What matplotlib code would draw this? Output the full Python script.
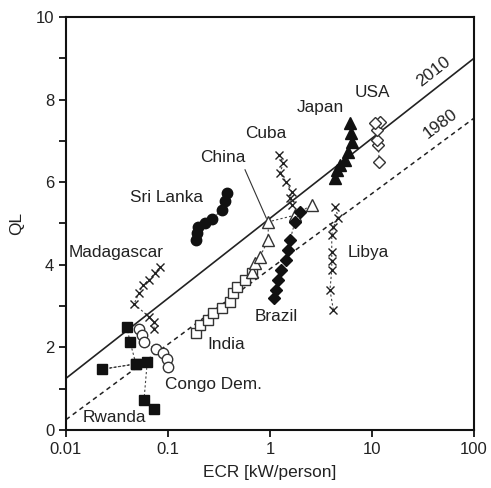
import matplotlib
matplotlib.use("Agg")
import matplotlib.pyplot as plt
import numpy as np

plt.rcParams['font.family'] = ['Liberation Sans', 'DejaVu Sans']

# Trend lines (ECR endpoints, QL)
line_x = [0.01, 100]
ql_2010 = [1.25, 9.0]
ql_1980 = [0.25, 7.55]

rwanda_x = [0.0394, 0.0424, 0.0485, 0.0225, 0.0485, 0.0626, 0.0582, 0.073]
rwanda_y = [2.50, 2.14, 1.60, 1.47, 1.60, 1.65, 0.73, 0.52]

congo_x = [0.052, 0.0552, 0.0582, 0.0763, 0.090, 0.0985, 0.1007]
congo_y = [2.44, 2.30, 2.14, 1.95, 1.87, 1.71, 1.52]

madag_x = [0.073, 0.073, 0.0652, 0.0465, 0.052, 0.0569, 0.0652, 0.0747, 0.0836]
madag_y = [2.45, 2.61, 2.74, 3.05, 3.32, 3.51, 3.63, 3.80, 3.95]

srilanka_x = [0.188, 0.193, 0.197, 0.23, 0.27, 0.338, 0.362, 0.378]
srilanka_y = [4.60, 4.77, 4.92, 5.01, 5.11, 5.33, 5.54, 5.74]

india_x = [0.188, 0.206, 0.248, 0.278, 0.336, 0.405, 0.437, 0.472, 0.569, 0.66]
india_y = [2.35, 2.54, 2.66, 2.83, 2.95, 3.11, 3.31, 3.47, 3.63, 3.79]

china_x = [0.662, 0.713, 0.798, 0.96, 0.962, 1.76, 2.56]
china_y = [3.83, 4.04, 4.20, 4.60, 5.04, 5.20, 5.45]

cuba_x = [1.23, 1.35, 1.25, 1.44, 1.63, 1.57, 1.63]
cuba_y = [6.66, 6.46, 6.22, 6.01, 5.77, 5.61, 5.45]

brazil_x = [1.09, 1.15, 1.20, 1.28, 1.43, 1.50, 1.57, 1.76, 1.97]
brazil_y = [3.20, 3.39, 3.63, 3.87, 4.12, 4.36, 4.60, 5.04, 5.28]

japan_x = [4.34, 4.54, 4.85, 5.43, 5.82, 6.37, 6.22, 6.08]
japan_y = [6.10, 6.30, 6.42, 6.54, 6.73, 6.97, 7.19, 7.43]

usa_x = [11.8, 11.5, 11.1, 11.1, 12.0, 10.7]
usa_y = [6.50, 6.90, 7.02, 7.26, 7.46, 7.43]

libya_x = [4.18, 3.87, 4.03, 4.03, 4.03, 4.03, 4.18, 4.68, 4.34]
libya_y = [2.91, 3.39, 3.87, 4.08, 4.32, 4.72, 4.92, 5.13, 5.41]

xticks = [0.01, 0.1, 1, 10, 100]
xticklabels = ['0.01', '0.1', '1', '10', '100']
yticks = [0, 2, 4, 6, 8, 10]

fig = plt.figure(figsize=(4.91, 4.88), dpi=100)
ax = fig.add_axes([0.1344, 0.1189, 0.831, 0.8463])
tc = '#222222'

ax.plot(line_x, ql_2010, '-', color='#222', lw=1.2, zorder=1)
ax.plot(line_x, ql_1980, '--', color='#222', lw=1.1, dashes=(3, 2.5), zorder=1)

lk = dict(color='#444', lw=0.8, ls=(0, (2, 2)), zorder=2, markeredgewidth=1.0)

ax.plot(rwanda_x, rwanda_y, marker='s', ms=6.5, mfc='#111', mec='#111', **lk)
ax.plot(congo_x, congo_y, marker='o', ms=7.5, mfc='white', mec='#333', **lk)
ax.plot(madag_x, madag_y, marker='x', ms=6, mec='#222', **lk)
ax.plot(srilanka_x, srilanka_y, marker='o', ms=7.5, mfc='#111', mec='#111', **lk)
ax.plot(india_x, india_y, marker='s', ms=7, mfc='white', mec='#333', **lk)
ax.plot(china_x, china_y, marker='^', ms=8, mfc='white', mec='#333', **lk)
ax.plot(cuba_x, cuba_y, marker='x', ms=6, mec='#222', **lk)
ax.plot(brazil_x, brazil_y, marker='D', ms=6, mfc='#111', mec='#111', **lk)
ax.plot(japan_x, japan_y, marker='^', ms=8, mfc='#111', mec='#111', **lk)
ax.plot(usa_x, usa_y, marker='D', ms=6, mfc='white', mec='#333', **lk)
ax.plot(libya_x, libya_y, marker='x', ms=6, mec='#222', **lk)

fs = 12.4
ax.text(0.0424, 5.62, 'Sri Lanka', fontsize=fs, color=tc, ha='left', va='center')
ax.text(0.0106, 4.29, 'Madagascar', fontsize=fs, color=tc, ha='left', va='center')
ax.text(0.206, 6.59, 'China', fontsize=fs, color=tc, ha='left', va='center')
ax.text(0.569, 7.19, 'Cuba', fontsize=fs, color=tc, ha='left', va='center')
ax.text(1.84, 7.80, 'Japan', fontsize=fs, color=tc, ha='left', va='center')
ax.text(6.8, 8.16, 'USA', fontsize=fs, color=tc, ha='left', va='center')
ax.text(5.82, 4.29, 'Libya', fontsize=fs, color=tc, ha='left', va='center')
ax.text(0.713, 2.74, 'Brazil', fontsize=fs, color=tc, ha='left', va='center')
ax.text(0.246, 2.06, 'India', fontsize=fs, color=tc, ha='left', va='center')
ax.text(0.0935, 1.11, 'Congo Dem.', fontsize=fs, color=tc, ha='left', va='center')
ax.text(0.0147, 0.29, 'Rwanda', fontsize=fs, color=tc, ha='left', va='center')
ax.text(40.5, 8.67, '2010', fontsize=fs, color=tc, ha='center', va='center', rotation=38)
ax.text(46.4, 7.41, '1980', fontsize=fs, color=tc, ha='center', va='center', rotation=37)
ax.plot([0.569, 0.92], [6.30, 5.13], color='#333', lw=0.8, zorder=2)

ax.set_xscale('log')
ax.set_xlim(0.01, 100)
ax.set_ylim(0, 10)
ax.set_xticks(xticks)
ax.set_xticklabels(xticklabels)
ax.minorticks_off()
ax.set_yticks(yticks)
ax.set_yticks([1, 3, 5, 7, 9], minor=True)
ax.tick_params(axis='both', which='major', direction='out', length=5, width=1.2,
               labelsize=12, labelcolor=tc, top=False, right=False)
ax.tick_params(axis='y', which='minor', direction='out', length=5, width=1.2,
               right=False)
ax.tick_params(axis='x', which='minor', bottom=False, top=False)
for s in ax.spines.values():
    s.set_linewidth(1.5)
    s.set_color('#111')
ax.set_xlabel('ECR [kW/person]', fontsize=12.4, color=tc, labelpad=6)
ax.set_ylabel('QL', fontsize=12.4, color=tc, labelpad=8)

fig.savefig('out.png', dpi=100)
